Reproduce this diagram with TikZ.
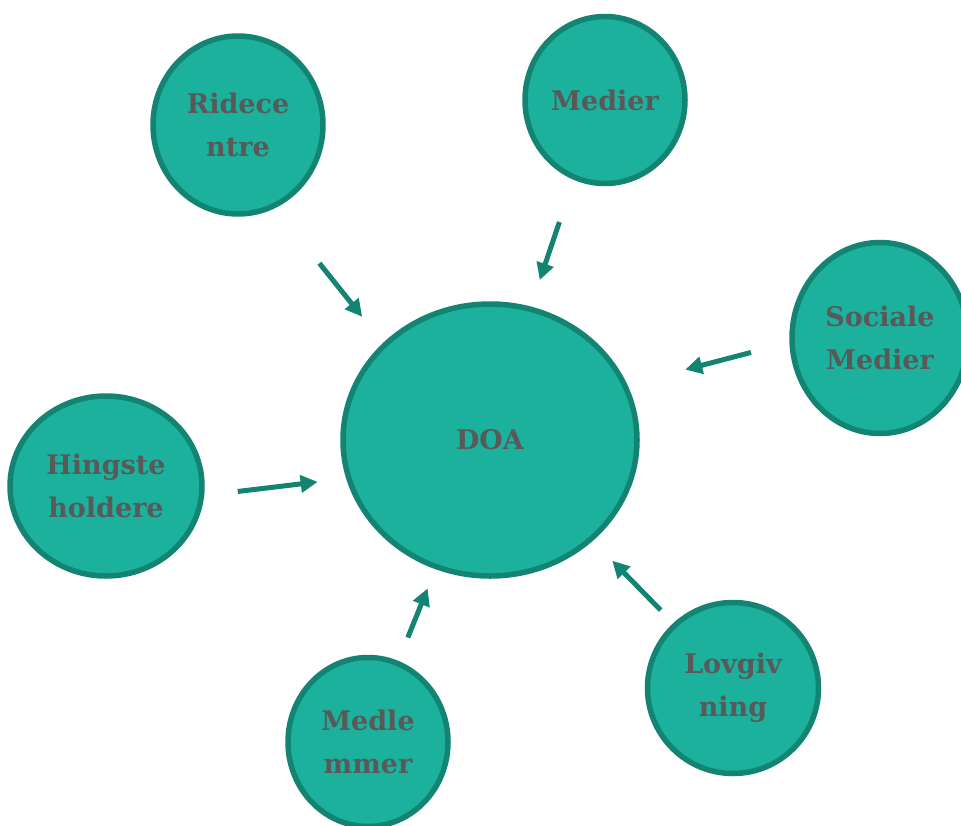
\documentclass[tikz,border=0pt]{standalone}
\usepackage{fontspec}
\setmainfont{DejaVu Serif}
\usetikzlibrary{shapes.geometric, arrows.meta}
\definecolor{tealfill}{HTML}{1BB19C}
\definecolor{tealline}{HTML}{138472}
\definecolor{labelgray}{HTML}{595959}

\begin{document}
\begin{tikzpicture}[
    x=1pt, y=-1pt,
    bubble/.style={ellipse, inner sep=0pt, line width=5.5pt, draw=tealline, fill=tealfill, text=labelgray, align=center, font=\bfseries\fontsize{27}{43}\selectfont},
    arrow/.style={line width=5pt, draw=tealline, -{Triangle[length=17pt,width=17pt]}}
]
\useasboundingbox (0,0) rectangle (961,825);
\node (doa) [bubble, minimum width=294pt, minimum height=272pt] at (490,440) {DOA};
\node (ride) [bubble, minimum width=170pt, minimum height=178pt] at (238,125) {Ridece\\ntre};
\node (medier) [bubble, minimum width=160pt, minimum height=167pt] at (605,100) {Medier};
\node (soc) [bubble, minimum width=176pt, minimum height=191pt] at (880,338) {Sociale\\Medier};
\node (hing) [bubble, minimum width=192pt, minimum height=180pt] at (106,486) {Hingste\\holdere};
\node (medlem) [bubble, minimum width=160pt, minimum height=169pt] at (368,742) {Medle\\mmer};
\node (lov) [bubble, minimum width=171pt, minimum height=171pt] at (733,688) {Lovgiv\\ning};
% arrows sit a bit off the centre lines
\draw [arrow, shorten <=69pt, shorten >=33pt, transform canvas={shift={(-18pt,-14pt)}}] (ride) -- (doa);
\draw [arrow, shorten <=44pt, shorten >=28pt, transform canvas={shift={(-4pt,1pt)}}] (medier) -- (doa);
\draw [arrow, shorten <=37pt, shorten >=58pt, transform canvas={shift={(-5pt,18pt)}}] (soc) -- (doa);
\draw [arrow, shorten <=32pt, shorten >=26pt, transform canvas={shift={(2pt,-21pt)}}] (hing) -- (doa);
\draw [arrow, shorten <=25pt, shorten >=21pt, transform canvas={shift={(-2pt,1pt)}}] (medlem) -- (doa);
\draw [arrow, shorten <=18pt, shorten >=28pt, transform canvas={shift={(2pt,2pt)}}] (lov) -- (doa);
\end{tikzpicture}
\end{document}
